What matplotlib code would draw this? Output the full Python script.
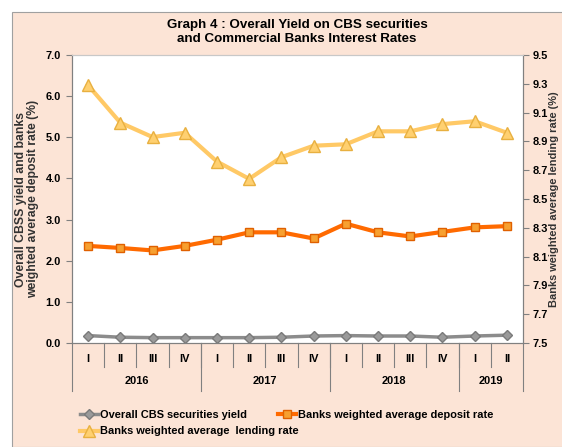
import matplotlib.pyplot as plt
from matplotlib import font_manager
import numpy as np

# data
years = ['2016', '2017', '2018', '2019']
quarters_per_year = [4, 4, 4, 2]
quarter_names = ['I', 'II', 'III', 'IV']

cbs_yield = [0.18, 0.14, 0.13, 0.13, 0.13, 0.13, 0.14, 0.17, 0.18, 0.17, 0.17, 0.14, 0.17, 0.19]
deposit_rate = [2.36, 2.31, 2.25, 2.36, 2.51, 2.69, 2.69, 2.54, 2.90, 2.69, 2.59, 2.70, 2.81, 2.84]
lending_rate = [9.29, 9.03, 8.93, 8.96, 8.76, 8.64, 8.79, 8.87, 8.88, 8.97, 8.97, 9.02, 9.04, 8.96]

# narrow bold look: use a narrow family if there is one, else plain Liberation Sans a bit smaller
names = set(f.name for f in font_manager.fontManager.ttflist)
if 'Liberation Sans Narrow' in names:
    fam, k = 'Liberation Sans Narrow', 1.0
else:
    fam, k = 'Liberation Sans', 0.88
plt.rcParams['font.family'] = [fam, 'DejaVu Sans']

bg = '#FCE4D6'
grey = '#8C8C8C'
orange = '#FF6A00'
yellow = '#FFC966'

fig = plt.figure(figsize=(5.62, 4.47), dpi=100, facecolor='white')
# peach panel
fig.patches.append(plt.Rectangle((12 / 562, 0), 1, 1 - 12 / 447, transform=fig.transFigure,
                                 facecolor=bg, edgecolor='#A0A0A0', lw=0.8, zorder=-1))

ax = fig.add_axes([72 / 562, 1 - 343 / 447, (523 - 72) / 562, (343 - 55) / 447])
ax.set_facecolor('white')
ax2 = ax.twinx()

labels = []
for n in quarters_per_year:
    labels += quarter_names[:n]
x = np.arange(len(labels))

l_cbs, = ax.plot(x, cbs_yield, color=grey, lw=2.5, marker='D', ms=5.5, mfc='#9A9A9A', mec='#7A7A7A',
                 label='Overall CBS securities yield', zorder=3)
l_dep, = ax.plot(x, deposit_rate, color=orange, lw=3, marker='s', ms=6, mfc='#F7A030', mec='#E06000',
                 label='Banks weighted average deposit rate', zorder=3)
l_len, = ax2.plot(x, lending_rate, color=yellow, lw=3, marker='^', ms=8, mfc='#FFD070', mec='#E8B040',
                  label='Banks weighted average  lending rate', zorder=3)

fs = 9 * k
ax.set_xlim(-0.5, len(labels) - 0.5)
ax.set_ylim(0, 7)
ax.set_yticks(np.arange(0, 7.1, 1))
ax.set_yticklabels(['%.1f' % v for v in np.arange(0, 7.1, 1)], fontsize=fs, fontweight='bold')
ax2.set_ylim(7.5, 9.5)
ax2.set_yticks(np.arange(7.5, 9.51, 0.2))
ax2.set_yticklabels(['%.1f' % v for v in np.arange(7.5, 9.51, 0.2)], fontsize=fs, fontweight='bold')

for a in (ax, ax2):
    for s in a.spines.values():
        s.set_color('#808080')
        s.set_linewidth(0.8)
    a.spines['top'].set_color('#C8C8C8')
ax.tick_params(axis='y', length=4, color='#808080', pad=4)
ax2.tick_params(axis='y', length=4, color='#808080', pad=3)

# category axis
ax.set_xticks(x)
ax.set_xticklabels(labels, fontsize=fs, fontweight='bold')
ax.tick_params(axis='x', length=0, pad=8)
tr = ax.get_xaxis_transform()
for b in np.arange(0.5, len(labels) - 1, 1):
    ax.plot([b, b], [0, -0.085], transform=tr, color='#808080', lw=0.8, clip_on=False)
edges = np.concatenate([[0], np.cumsum(quarters_per_year)]) - 0.5
for e in edges:
    ax.plot([e, e], [0, -0.165], transform=tr, color='#808080', lw=0.8, clip_on=False)
for i, yr in enumerate(years):
    ax.text((edges[i] + edges[i + 1]) / 2, -0.133, yr, transform=tr, ha='center', va='center',
            fontsize=fs, fontweight='bold')

ax.set_ylabel('Overall CBSS yield and banks\nweighted average deposit rate (%)',
              fontsize=10 * k, fontweight='bold', color='#333333', labelpad=5, linespacing=0.95)
ax2.set_ylabel('Banks weighted average lending rate (%)', fontsize=9 * k, fontweight='bold',
               color='#333333', labelpad=1)

fig.text(297 / 562, 1 - 32 / 447, 'Graph 4 : Overall Yield on CBS securities\nand Commercial Banks Interest Rates',
         ha='center', va='center', fontsize=11 * k, fontweight='bold', linespacing=1.2)

# legend laid out like the reference: two entries on the first row, one on the second
leg_kw = dict(frameon=False, loc='upper left', prop={'size': fs, 'weight': 'bold'},
              handlelength=1.6, handletextpad=0.2, labelspacing=0.6)
leg1 = fig.legend([l_cbs, l_len], [l_cbs.get_label(), l_len.get_label()],
                  bbox_to_anchor=(70 / 562, 1 - 400 / 447), **leg_kw)
leg2 = fig.legend([l_dep], [l_dep.get_label()],
                  bbox_to_anchor=(268 / 562, 1 - 400 / 447), **leg_kw)

fig.savefig('out.png', dpi=100, facecolor='white')
